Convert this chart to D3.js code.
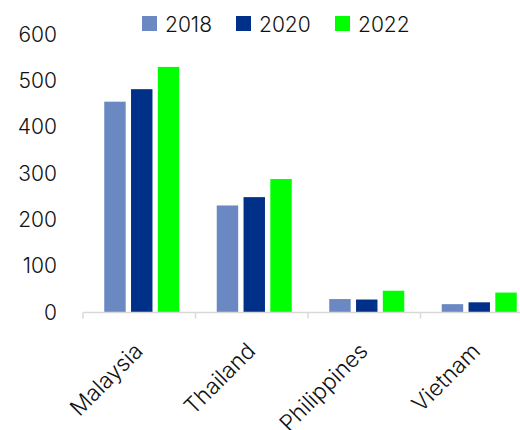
<!DOCTYPE html>
<html>
<head>
<meta charset="utf-8">
<script src="https://cdn.jsdelivr.net/npm/d3@7"></script>
<style>
  html, body { margin: 0; padding: 0; background: #fff; }
  svg { display: block; font-family: Inter, "Noto Sans", sans-serif; font-weight: 300; }
</style>
</head>
<body>
<div id="chart"></div>
<script>
// Categories, series and ticks
const countries = ["Malaysia", "Thailand", "Philippines", "Vietnam"];
const years = ["2018", "2020", "2022"];
const values2018 = [455, 231, 29, 18];
const values2020 = [482, 249, 28, 22];
const values2022 = [530, 288, 47, 43];
const yTicks = [0, 100, 200, 300, 400, 500, 600];
const colors = ["#6A88C2", "#003087", "#00FF00"];

const seriesValues = [values2018, values2020, values2022];

const W = 520, H = 430;
const FONT = "Inter, 'Noto Sans', sans-serif";
const svg = d3.select("#chart").append("svg")
  .attr("width", W).attr("height", H);

const x = d3.scaleBand().domain(countries).range([83, 533]).paddingInner(0).paddingOuter(0);
const y = d3.scaleLinear().domain([0, 600]).range([312.5, 34.5]);

// inner band for the three bars in each group
const xs = d3.scaleBand().domain(years).range([0, 75]).paddingInner(0.2).paddingOuter(0);
const groupOffset = (x.bandwidth() - 75) / 2 + 2.5;

// bars
const rows = countries.map((c, i) => ({ c, vals: years.map((yr, k) => ({ yr, k, v: seriesValues[k][i] })) }));
const g = svg.append("g");
g.selectAll("g.grp").data(rows).join("g")
  .attr("class", "grp")
  .attr("transform", d => `translate(${x(d.c) + groupOffset},0)`)
  .selectAll("rect").data(d => d.vals).join("rect")
  .attr("x", d => xs(d.yr))
  .attr("width", xs.bandwidth())
  .attr("y", d => y(d.v))
  .attr("height", d => y(0) - y(d.v))
  .attr("fill", d => colors[d.k]);

// x axis line and category separators
const xAxis = svg.append("g").attr("transform", `translate(0,${y(0)})`);
xAxis.append("line").attr("x1", 83).attr("x2", 533).attr("stroke", "#d9d9d9").attr("stroke-width", 1.5);
xAxis.selectAll("line.sep").data(countries.concat(["end"])).join("line")
  .attr("class", "sep")
  .attr("x1", (d, i) => 83 + i * x.bandwidth()).attr("x2", (d, i) => 83 + i * x.bandwidth())
  .attr("y1", 0).attr("y2", 6)
  .attr("stroke", "#d9d9d9").attr("stroke-width", 1.5);

// x labels, rotated
svg.append("g").selectAll("text").data(countries).join("text")
  .attr("transform", d => `translate(${x(d) + x.bandwidth() / 2 + 5},${y(0) + 40}) rotate(-45)`)
  .attr("text-anchor", "end")
  .attr("font-size", 22.5)
  .attr("fill", "#111")
  .text(d => d);

// y axis labels
const yAxis = d3.axisLeft(y).tickValues(yTicks).tickSize(0).tickPadding(0);
const ya = svg.append("g").attr("transform", "translate(57,0)").call(yAxis);
ya.select(".domain").remove();
ya.selectAll("text").attr("font-size", 21).attr("fill", "#111")
  .attr("font-family", FONT).attr("font-weight", 300);

// legend
const legX = [142, 236, 335];
const leg = svg.append("g").selectAll("g").data(years).join("g")
  .attr("transform", (d, i) => `translate(${legX[i]},16)`);
leg.append("rect").attr("width", 15).attr("height", 15).attr("fill", (d, i) => colors[i]);
leg.append("text").attr("x", 23).attr("y", 15.5).attr("font-size", 21).attr("fill", "#111").text(d => d);
</script>
</body>
</html>
